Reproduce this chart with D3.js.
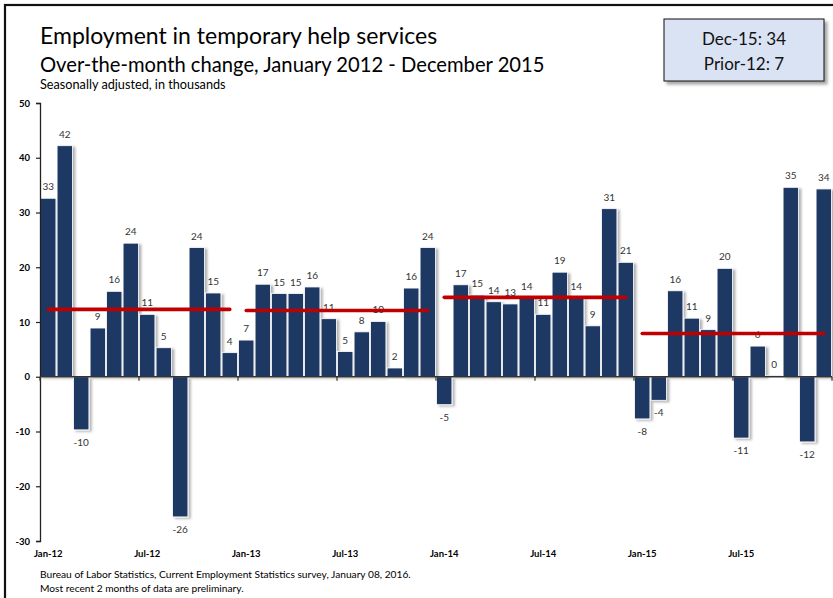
<!DOCTYPE html>
<html>
<head>
<meta charset="utf-8">
<script src="https://cdn.jsdelivr.net/npm/d3@7"></script>
<style>
  body { margin: 0; background: #fff; }
  svg { display: block; font-family: Lato, "Open Sans", sans-serif; }
</style>
</head>
<body>
<svg width="833" height="598"></svg>
<script>
const WIDTH = 833
const HEIGHT = 598

// months Jan-12 .. Dec-15
const months = []
const years = ["12", "13", "14", "15"]
const monthNames = ["Jan", "Feb", "Mar", "Apr", "May", "Jun", "Jul", "Aug", "Sep", "Oct", "Nov", "Dec"]
years.forEach(y => monthNames.forEach(m => months.push(m + "-" + y)))

// over-the-month change, thousands
const values = [
    32.6, 42.2, -9.7, 8.9, 15.6, 24.4, 11.4, 5.3, -25.6, 23.6, 15.3, 4.4,
    6.7, 16.9, 15.2, 15.2, 16.4, 10.6, 4.6, 8.2, 10.1, 1.6, 16.2, 23.6,
    -5.1, 16.8, 14.9, 13.7, 13.3, 14.4, 11.4, 19.1, 14.4, 9.3, 30.7, 20.9,
    -7.7, -4.3, 15.7, 10.7, 8.6, 19.8, -11.2, 5.6, 0.2, 34.6, -11.9, 34.3
]

// yearly average lines
const avgYears = ["12", "13", "14", "15"]
const avgValues = [12.3, 12.1, 14.5, 7.9]

const yTicks = [50, 40, 30, 20, 10, 0, -10, -20, -30]
const xTickLabels = ["Jan-12", "Jul-12", "Jan-13", "Jul-13", "Jan-14", "Jul-14", "Jan-15", "Jul-15"]

const boxLines = ["Dec-15: 34", "Prior-12: 7"]

const titleLines = [
    "Employment in temporary help services",
    "Over-the-month change, January 2012 - December 2015"
]
const unitsNote = "Seasonally adjusted, in thousands"
const sourceLines = [
    "Bureau of Labor Statistics, Current Employment Statistics survey, January 08, 2016.",
    "Most recent 2 months of data are preliminary."
]

const BAR_COLOR = "#1f3763"
const AVG_COLOR = "#c00000"

const svg = d3.select("svg")

// drop shadows
const defs = svg.append("defs")
defs.append("filter")
    .attr("id", "barShadow")
    .attr("x", "-30%").attr("y", "-10%")
    .attr("width", "180%").attr("height", "130%")
    .append("feDropShadow")
    .attr("dx", 2.5).attr("dy", 1.5)
    .attr("stdDeviation", 1.2)
    .attr("flood-color", "#000")
    .attr("flood-opacity", 0.3)
defs.append("filter")
    .attr("id", "boxShadow")
    .attr("x", "-10%").attr("y", "-10%")
    .attr("width", "130%").attr("height", "140%")
    .append("feDropShadow")
    .attr("dx", 3).attr("dy", 3)
    .attr("stdDeviation", 1.5)
    .attr("flood-color", "#000")
    .attr("flood-opacity", 0.35)

// outer frame (only top and left visible)
svg.append("rect")
    .attr("x", 5).attr("y", 5)
    .attr("width", WIDTH + 20).attr("height", HEIGHT + 20)
    .attr("fill", "none")
    .attr("stroke", "#111")
    .attr("stroke-width", 2.2)

// titles
svg.append("text")
    .attr("x", 40).attr("y", 44)
    .attr("font-size", 23)
    .attr("fill", "#000")
    .text(titleLines[0])
svg.append("text")
    .attr("x", 40).attr("y", 71.5)
    .attr("font-size", 20.2)
    .attr("fill", "#000")
    .text(titleLines[1])
svg.append("text")
    .attr("x", 40).attr("y", 89)
    .attr("font-size", 12.7)
    .attr("fill", "#000")
    .text(unitsNote)

// scales
const x = d3.scaleBand()
    .domain(months)
    .range([40, 832])
    .paddingInner(0.07)
    .paddingOuter(0.035)

const y = d3.scaleLinear()
    .domain([-30, 50])
    .range([541, 103])

// plain hyphen minus, as in the original
const fmt = d => d3.format(".0f")(d).replace("\u2212", "-")

const plot = svg.append("g")

// bars
plot.selectAll("rect.bar")
    .data(values)
    .enter()
    .append("rect")
    .classed("bar", true)
    .attr("x", (d, i) => x(months[i]))
    .attr("width", x.bandwidth())
    .attr("y", d => y(Math.max(d, 0)))
    .attr("height", d => Math.max(Math.abs(y(d) - y(0)), 0.6))
    .attr("fill", BAR_COLOR)
    .attr("stroke", "#fff")
    .attr("stroke-width", 0.8)
    .attr("filter", "url(#barShadow)")

// y axis
const yAxis = plot.append("g")
    .attr("transform", "translate(40,0)")
    .call(d3.axisLeft(y).tickValues(yTicks).tickSize(4).tickPadding(6).tickFormat(fmt))
yAxis.select(".domain").attr("stroke", "#222").attr("stroke-width", 1.3)
yAxis.selectAll(".tick line").attr("stroke", "#222").attr("stroke-width", 1.2)
yAxis.selectAll(".tick text")
    .attr("font-family", "Lato, sans-serif")
    .attr("font-size", 9.5)
    .attr("font-weight", "bold")
    .attr("fill", "#000")

// x axis on the zero line: ticks between half years, labels centered on the month
const tickPos = d3.range(0, 49, 6).map(i => 40 + i * (792 / 48))
const xAxisG = plot.append("g")
xAxisG.append("line")
    .attr("x1", 40).attr("x2", 832)
    .attr("y1", y(0)).attr("y2", y(0))
    .attr("stroke", "#333")
    .attr("stroke-width", 1.5)
xAxisG.selectAll("line.tick")
    .data(tickPos)
    .enter()
    .append("line")
    .classed("tick", true)
    .attr("x1", d => d).attr("x2", d => d)
    .attr("y1", y(0)).attr("y2", y(0) + 4)
    .attr("stroke", "#333")
    .attr("stroke-width", 1.2)
xAxisG.selectAll("text")
    .data(xTickLabels)
    .enter()
    .append("text")
    .attr("x", d => x(d) + x.bandwidth() / 2)
    .attr("y", 557)
    .attr("text-anchor", "middle")
    .attr("font-size", 9.5)
    .attr("font-weight", "bold")
    .attr("fill", "#000")
    .text(d => d)

// value labels
plot.selectAll("text.val")
    .data(values)
    .enter()
    .append("text")
    .classed("val", true)
    .attr("x", (d, i) => x(months[i]) + x.bandwidth() / 2)
    .attr("y", d => d >= 0 ? y(d) - 8 : y(d) + 16)
    .attr("text-anchor", "middle")
    .attr("font-size", 10)
    .attr("fill", "#333")
    .text(d => fmt(d))

// yearly average lines
plot.selectAll("line.avg")
    .data(avgValues)
    .enter()
    .append("line")
    .classed("avg", true)
    .attr("x1", (d, i) => x("Jan-" + avgYears[i]) + x.bandwidth() / 2)
    .attr("x2", (d, i) => x("Dec-" + avgYears[i]) + x.bandwidth() / 2)
    .attr("y1", d => y(d))
    .attr("y2", d => y(d))
    .attr("stroke", AVG_COLOR)
    .attr("stroke-width", 3.6)
    .attr("stroke-linecap", "round")

// summary box
const box = svg.append("g")
box.append("rect")
    .attr("x", 664).attr("y", 19)
    .attr("width", 160).attr("height", 62)
    .attr("fill", "#dae3f3")
    .attr("stroke", "#222")
    .attr("stroke-width", 1.1)
    .attr("filter", "url(#boxShadow)")
box.selectAll("text")
    .data(boxLines)
    .enter()
    .append("text")
    .attr("x", 744)
    .attr("y", (d, i) => 45 + i * 25)
    .attr("text-anchor", "middle")
    .attr("font-size", 17)
    .attr("fill", "#111")
    .text(d => d)

// source note
svg.selectAll("text.src")
    .data(sourceLines)
    .enter()
    .append("text")
    .classed("src", true)
    .attr("x", 40)
    .attr("y", (d, i) => 578 + i * 14)
    .attr("font-size", 10.2)
    .attr("fill", "#000")
    .text(d => d)
</script>
</body>
</html>
